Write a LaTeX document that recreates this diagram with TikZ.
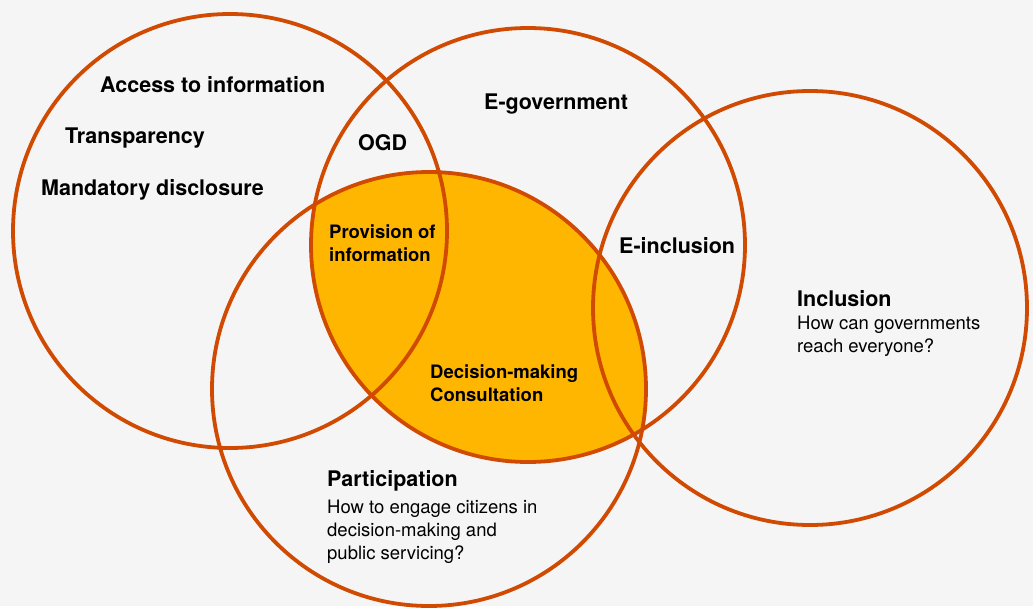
\documentclass[tikz,border=0pt]{standalone}
\usepackage{fontspec}
\setmainfont{TeX Gyre Heros}
\definecolor{vennline}{HTML}{D04A02}
\definecolor{vennfill}{HTML}{FFB600}
\definecolor{paper}{HTML}{F5F5F5}
\tikzset{
  venn/.style={draw=vennline, line width=3.8pt},
  topic/.style={font=\bfseries\fontsize{21.5}{26}\selectfont, inner sep=0pt, anchor=base west},
  overlap/.style={font=\bfseries\fontsize{18.5}{22.5}\selectfont, inner sep=0pt, anchor=base west, align=left},
  question/.style={font=\fontsize{18.5}{22.8}\selectfont, inner sep=0pt, anchor=base west, align=left}
}
\begin{document}
\begin{tikzpicture}[x=1pt,y=-1pt]
  \fill[paper] (0,0) rectangle (1033,606);
  \coordinate (Access) at (230,231);
  \coordinate (Egov) at (528,245);
  \coordinate (Part) at (429,389);
  \coordinate (Incl) at (810,308);

  \begin{scope}
    \clip (Egov) circle (217pt);
    \fill[vennfill] (Part) circle (217pt);
  \end{scope}
  \draw[venn] (Access) circle (217pt);
  \draw[venn] (Egov) circle (217pt);
  \draw[venn] (Part) circle (217pt);
  \draw[venn] (Incl) circle (217pt);

  % base of a multi-line node is its last line
  \node[topic] (access) at (100,92) {Access to information};
  \node[topic] (transp) at (65,143) {Transparency};
  \node[topic] (mandat) at (41,195) {Mandatory disclosure};
  \node[topic] (ogd) at (358,150) {OGD};
  \node[topic] (egov) at (484,109) {E-government};
  \node[topic] (eincl) at (619,253) {E-inclusion};
  \node[overlap] (provis) at (329,261) {Provision of\\information};
  \node[overlap] (decis) at (430,401) {Decision-making\\Consultation};
  \node[topic] (incl) at (797,306) {Inclusion};
  \node[question] (inclq) at (797,352) {How can governments\\reach everyone?};
  \node[topic] (part) at (327,486) {Participation};
  \node[question] (partq) at (327,559) {How to engage citizens in\\decision-making and\\public servicing?};
\end{tikzpicture}
\end{document}
